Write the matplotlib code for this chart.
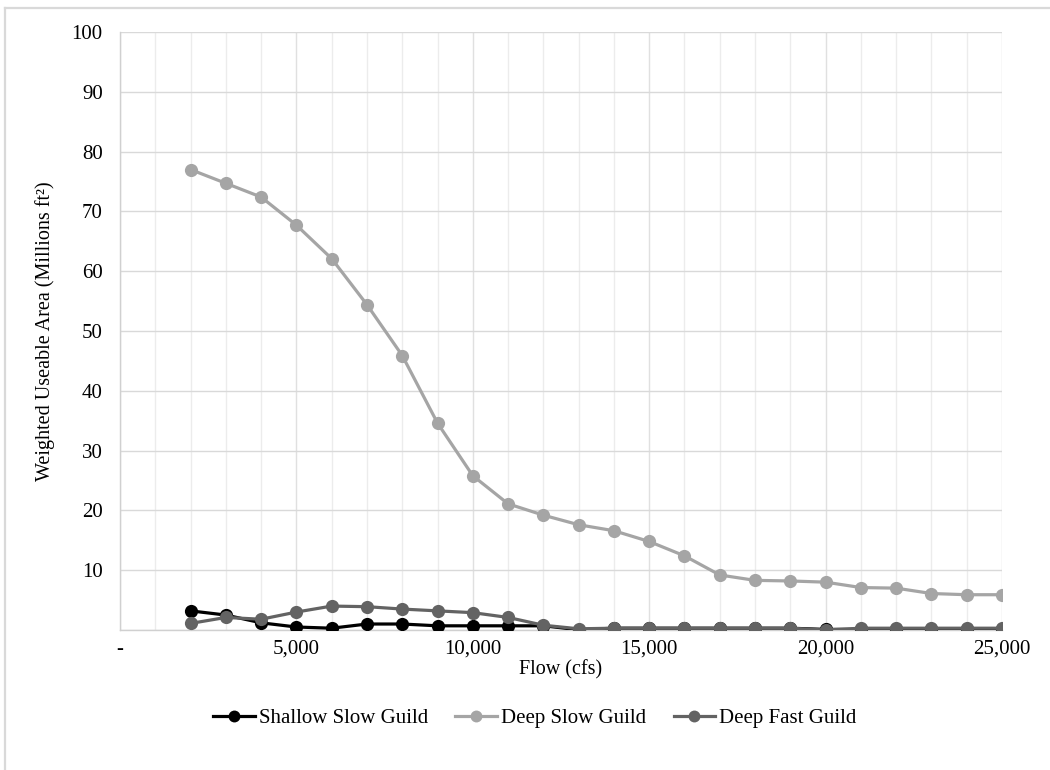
import matplotlib
matplotlib.use("Agg")
import matplotlib.pyplot as plt
from matplotlib.ticker import MultipleLocator, FuncFormatter
from matplotlib.lines import Line2D

plt.rcParams['font.family'] = ['Liberation Serif', 'DejaVu Serif']

flow = [2000, 3000, 4000, 5000, 6000, 7000, 8000, 9000, 10000, 11000, 12000, 13000,
        14000, 15000, 16000, 17000, 18000, 19000, 20000, 21000, 22000, 23000, 24000, 25000]

shallow_slow = [3.2, 2.5, 1.2, 0.5, 0.3, 1.0, 1.0, 0.7, 0.7, 0.7, 0.7, 0.05,
                0.3, 0.3, 0.3, 0.3, 0.3, 0.3, 0.1, 0.1, 0.1, 0.1, 0.1, 0.1]
deep_slow = [77.0, 74.7, 72.4, 67.7, 62.1, 54.4, 45.9, 34.6, 25.8, 21.1, 19.2, 17.6,
             16.6, 14.8, 12.4, 9.2, 8.3, 8.2, 8.0, 7.1, 7.0, 6.1, 5.9, 5.9]
deep_fast = [1.1, 2.1, 1.8, 3.0, 4.0, 3.9, 3.5, 3.2, 2.9, 2.1, 0.8, 0.2,
             0.3, 0.3, 0.3, 0.3, 0.3, 0.3, 0.0, 0.3, 0.3, 0.3, 0.3, 0.3]

series_names = ["Shallow Slow Guild", "Deep Slow Guild", "Deep Fast Guild"]
series_colors = ["#000000", "#a5a5a5", "#636363"]

W, H = 1050, 770
fig = plt.figure(figsize=(W / 100, H / 100), dpi=100)
ax = fig.add_axes([120 / W, 1 - 630 / H, 882 / W, 598 / H])

for vals, name, col in zip([shallow_slow, deep_slow, deep_fast], series_names, series_colors):
    ax.plot(flow, vals, color=col, lw=2.3, marker='o', markersize=9.5,
            markeredgewidth=0, label=name, zorder=3)

ax.set_xlim(0, 25000)
ax.set_ylim(0, 100)
ax.xaxis.set_major_locator(MultipleLocator(5000))
ax.xaxis.set_minor_locator(MultipleLocator(1000))
ax.yaxis.set_major_locator(MultipleLocator(10))
ax.xaxis.set_major_formatter(FuncFormatter(lambda v, p: '-' if v == 0 else f"{int(v):,}"))
ax.yaxis.set_major_formatter(FuncFormatter(lambda v, p: '' if v == 0 else f"{int(v)}"))

ax.grid(which='major', axis='y', color='#d9d9d9', lw=1.0, zorder=0)
ax.grid(which='major', axis='x', color='#e0e0e0', lw=1.0, zorder=0)
ax.grid(which='minor', axis='x', color='#ececec', lw=1.0, zorder=0)
ax.set_axisbelow(True)
ax.tick_params(which='both', length=0, labelsize=15, colors='#000000')
ax.tick_params(axis='x', pad=7)
ax.tick_params(axis='y', pad=12.5)
for side in ['top', 'right']:
    ax.spines[side].set_visible(False)
for side in ['left', 'bottom']:
    ax.spines[side].set_color('#d0d0d0')
    ax.spines[side].set_linewidth(1.0)

ax.set_xlabel("Flow (cfs)", fontsize=14.5, labelpad=1)
ax.set_ylabel("Weighted Useable Area (Millions ft²)", fontsize=14.5, labelpad=12)

fig.legend(loc='center', bbox_to_anchor=(535 / W, 1 - 718 / H), ncol=3,
           frameon=False, fontsize=15, handlelength=2.0, columnspacing=1.3,
           handletextpad=0.2, markerscale=0.9)

# chart-area outline (left and top edges)
fig.add_artist(Line2D([5 / W, 5 / W], [0, 1 - 8 / H], transform=fig.transFigure,
                      color='#d9d9d9', lw=1.6))
fig.add_artist(Line2D([5 / W, 1], [1 - 8 / H, 1 - 8 / H], transform=fig.transFigure,
                      color='#d9d9d9', lw=1.6))

fig.savefig("out.png", dpi=100, facecolor='white')
